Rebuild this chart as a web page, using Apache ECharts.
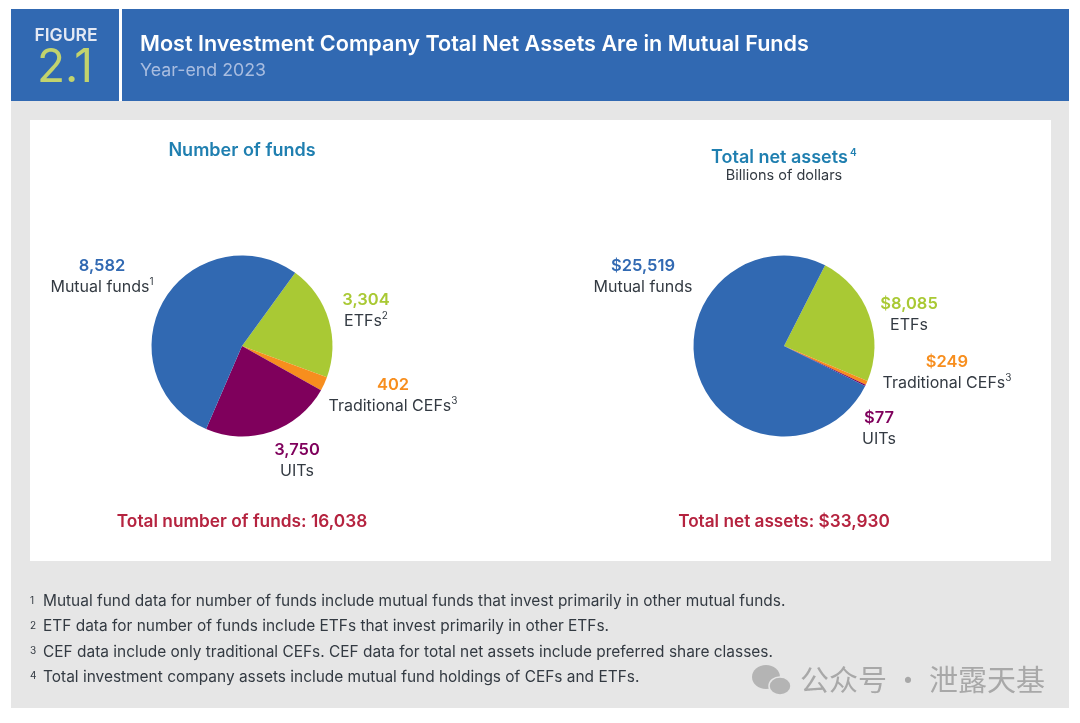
<!DOCTYPE html>
<html>
<head>
<meta charset="utf-8">
<style>
html, body { margin: 0; padding: 0; background: #fff; }
#main { width: 1080px; height: 723px; }
</style>
<script src="https://cdn.jsdelivr.net/npm/echarts@6/dist/echarts.min.js"></script>
</head>
<body>
<div id="main"></div>
<script>
var categories = ['ETFs', 'Traditional CEFs', 'UITs', 'Mutual funds']
var fundCounts = [3304, 402, 3750, 8582]
var netAssets = [8085, 249, 77, 25519]
var countLabels = ['3,304', '402', '3,750', '8,582']
var assetLabels = ['$8,085', '$249', '$77', '$25,519']
var countNotes = ['2', '3', '', '1']
var assetNotes = ['', '3', '', '']
var footnotes = [
    'Mutual fund data for number of funds include mutual funds that invest primarily in other mutual funds.',
    'ETF data for number of funds include ETFs that invest primarily in other ETFs.',
    'CEF data include only traditional CEFs. CEF data for total net assets include preferred share classes.',
    'Total investment company assets include mutual fund holdings of CEFs and ETFs.'
]

var colors = ['#a9c934', '#f78e1e', '#7f005c', '#3169b2']
var font = 'Inter'
var countPos = [[366, 311], [393, 396], [297, 461], [102, 277]]
var assetPos = [[909, 315], [947, 373], [879, 429], [643, 277]]

function pieSeries(values, labels, notes, center, startAngle, pos) {
    return {
        type: 'pie',
        silent: true,
        animation: false,
        radius: [0, 90.5],
        center: center,
        startAngle: startAngle,
        clockwise: true,
        minAngle: 0,
        avoidLabelOverlap: false,
        itemStyle: { borderWidth: 0 },
        labelLine: { show: false },
        // label block: value on top, name under it
        labelLayout: function (p) {
            return { x: pos[p.dataIndex][0], y: pos[p.dataIndex][1], align: 'center', verticalAlign: 'middle' }
        },
        data: categories.map(function (name, i) {
            var c = { fontFamily: font, fontSize: 16.5, fontWeight: 600, color: colors[i], lineHeight: 21 }
            return {
                name: name,
                value: values[i],
                itemStyle: { color: colors[i] },
                label: {
                    show: true,
                    position: 'outside',
                    align: 'center',
                    formatter: '{v|' + labels[i] + '}\n{n|' + name + '}' + (notes[i] ? '{s|' + notes[i] + '}' : ''),
                    rich: {
                        v: c,
                        n: { fontFamily: font, fontSize: 16, color: '#333a42', lineHeight: 21 },
                        s: { fontFamily: font, fontSize: 10, color: '#333a42', verticalAlign: 'top', lineHeight: 17 }
                    }
                }
            }
        })
    }
}

function txt(x, y, text, size, color, weight, align) {
    return {
        type: 'text',
        x: x,
        y: y,
        silent: true,
        style: {
            text: text,
            fontFamily: font,
            fontSize: size,
            fontWeight: weight || 'normal',
            fill: color,
            textAlign: align || 'left',
            textVerticalAlign: 'middle'
        }
    }
}

function box(x, y, w, h, color) {
    return { type: 'rect', silent: true, shape: { x: x, y: y, width: w, height: h }, style: { fill: color } }
}

var elements = [
    box(11, 100, 1058, 608, '#e6e6e6'),
    box(11, 9, 1058, 92, '#3169b2'),
    box(119, 9, 3, 92, '#ffffff'),
    box(30, 120, 1021, 441, '#ffffff'),
    txt(66, 36, 'FIGURE', 17.5, '#e4e9f4', 600, 'center'),
    txt(65, 68, '2.1', 46, '#c2d36d', 'normal', 'center'),
    txt(140, 44, 'Most Investment Company Total Net Assets Are in Mutual Funds', 21.6, '#ffffff', 600),
    txt(140, 71, 'Year-end 2023', 17.8, '#a9bde0'),
    txt(242, 151, 'Number of funds', 18, '#1f7fb0', 600, 'center'),
    txt(711, 158, 'Total net assets', 18, '#1f7fb0', 600),
    txt(850, 153, '4', 10, '#1f7fb0', 600),
    txt(784, 176, 'Billions of dollars', 14.5, '#333a42', 'normal', 'center'),
    txt(242, 522, 'Total number of funds: 16,038', 17.3, '#b5233f', 600, 'center'),
    txt(784, 522, 'Total net assets: $33,930', 17.2, '#b5233f', 600, 'center'),
    // watermark
    { type: 'ellipse', silent: true, shape: { cx: 766, cy: 677, rx: 14, ry: 12 }, style: { fill: '#b4b4b4' } },
    { type: 'ellipse', silent: true, shape: { cx: 780, cy: 686, rx: 11, ry: 9 }, style: { fill: '#b4b4b4', stroke: '#e6e6e6', lineWidth: 1.5 } },
    {
        type: 'text',
        x: 800,
        y: 680,
        silent: true,
        style: {
            text: '公众号 · 泄露天基',
            fontFamily: 'Noto Sans CJK SC',
            fontSize: 29,
            fill: '#a8a8a8',
            textVerticalAlign: 'middle'
        }
    }
]

footnotes.forEach(function (note, i) {
    var y = 601.5 + i * 25.2
    elements.push(txt(30, y - 1, String(i + 1), 10, '#333a42'))
    elements.push(txt(43, y, note, 15.45, '#333a42'))
})

var chart = echarts.init(document.getElementById('main'), null, { renderer: 'canvas' })
chart.setOption({
    backgroundColor: '#ffffff',
    animation: false,
    graphic: { elements: elements },
    series: [
        pieSeries(fundCounts, countLabels, countNotes, [242, 346], 54, countPos),
        pieSeries(netAssets, assetLabels, assetNotes, [784, 346], 63, assetPos)
    ]
})
</script>
</body>
</html>
